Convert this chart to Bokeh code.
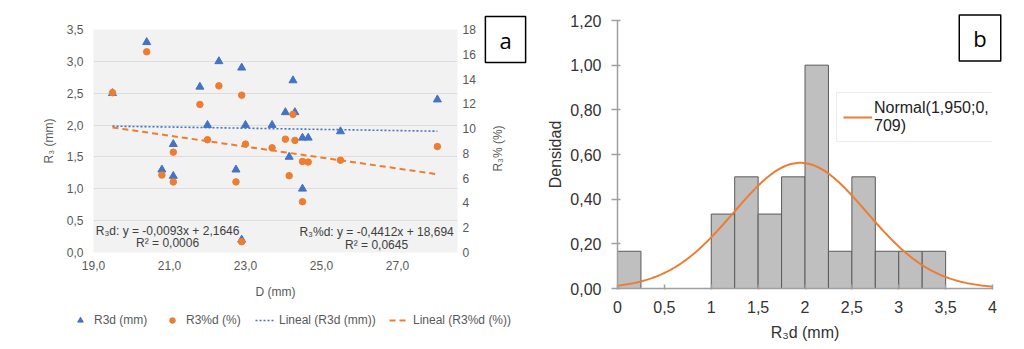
import math
import numpy as np
from bokeh.plotting import figure
from bokeh.models import (Range1d, LinearAxis, FixedTicker, CustomJSTickFormatter,
                          Legend, LegendItem, Label)
from bokeh.embed import file_html
from bokeh.resources import INLINE

# ---------------- panel a data ----------------
D_MM = [19.5, 20.4, 20.8, 21.1, 21.1, 21.8, 22.0, 22.3, 22.75, 22.9, 22.9, 23.0,
        23.7, 24.05, 24.15, 24.25, 24.3, 24.5, 24.5, 24.65, 25.5, 28.05]
R3D_MM = [2.5, 3.3, 1.3, 1.7, 1.2, 2.6, 2.0, 3.0, 1.3, 2.9, 0.2, 2.0,
          2.0, 2.2, 1.5, 2.7, 2.2, 1.8, 1.0, 1.8, 1.9, 2.4]
R3PD_PCT = [12.9, 16.2, 6.25, 8.1, 5.7, 11.95, 9.1, 13.45, 5.7, 12.7, 0.87, 8.75,
            8.45, 9.15, 6.2, 11.15, 9.05, 7.35, 4.1, 7.3, 7.45, 8.55]
TREND_A = (-0.0093, 2.1646)   # R3d trend: slope, intercept
TREND_B = (-0.4412, 18.694)   # R3%d trend: slope, intercept
X_TICKS_A = [19, 21, 23, 25, 27]
Y_TICKS_A = [0, 0.5, 1.0, 1.5, 2.0, 2.5, 3.0, 3.5]
Y2_TICKS_A = [0, 2, 4, 6, 8, 10, 12, 14, 16, 18]
LEGEND_A = ["R3d (mm)", "R3%d (%)", "Lineal (R3d (mm))", "Lineal (R3%d (%))"]

# ---------------- panel b data ----------------
BIN_LEFT = [0.0, 0.25, 0.5, 0.75, 1.0, 1.25, 1.5, 1.75, 2.0, 2.25, 2.5, 2.75, 3.0, 3.25, 3.5]
BIN_WIDTH = 0.25
DENSITY = [0.1667, 0.0, 0.0, 0.0, 0.3333, 0.5, 0.3333, 0.5, 1.0, 0.1667, 0.5, 0.1667,
           0.1667, 0.1667, 0.0]
NORMAL_MEAN = 1.950
NORMAL_SD = 0.709
X_TICKS_B = [0, 0.5, 1, 1.5, 2, 2.5, 3, 3.5, 4]
Y_TICKS_B = [0, 0.2, 0.4, 0.6, 0.8, 1.0, 1.2]

FONT = "Liberation Sans"
GRAY_TXT = "#595959"
BLUE = "#4472c4"
ORANGE = "#ed7d31"


def boxed_letter(letter, x, y):
    lab = Label(x=x, y=y, text=letter,
                text_align="center", text_baseline="middle", text_font="Open Sans",
                text_font_size="22px", text_color="black",
                border_line_color="black", border_line_width=1.5,
                background_fill_color="white", background_fill_alpha=1)
    try:
        lab.padding = (14, 8)
    except Exception:
        try:
            lab.padding = 10
        except Exception:
            pass
    return lab


# ================= Panel a =================
p1 = figure(width=532, height=349, x_range=Range1d(19, 28.58), y_range=Range1d(0, 3.5),
            output_backend="svg", toolbar_location=None,
            min_border_left=93, min_border_right=75, min_border_top=29, min_border_bottom=97,
            background_fill_color="#f2f2f2", border_fill_color="white")
p1.outline_line_color = None
p1.extra_y_ranges = {"pct": Range1d(0, 18)}

r_tri = p1.scatter(D_MM, R3D_MM, marker="triangle", size=8, color=BLUE)
r_circ = p1.scatter(D_MM, R3PD_PCT, marker="circle", size=6.5, color=ORANGE, y_range_name="pct")
x_tr = [min(D_MM), max(D_MM)]
l_a = p1.line(x_tr, [TREND_A[0] * x + TREND_A[1] for x in x_tr], color=BLUE,
              line_width=1.6, line_dash="2 2")
l_b = p1.line(x_tr, [TREND_B[0] * x + TREND_B[1] for x in x_tr], color=ORANGE,
              line_width=2, line_dash="6 4", y_range_name="pct")

ax_r = LinearAxis(y_range_name="pct", ticker=FixedTicker(ticks=Y2_TICKS_A))
p1.add_layout(ax_r, "right")

p1.xaxis[0].ticker = FixedTicker(ticks=X_TICKS_A)
p1.xaxis[0].formatter = CustomJSTickFormatter(code="return tick.toFixed(1).replace('.', ',');")
p1.yaxis[0].ticker = FixedTicker(ticks=Y_TICKS_A)
p1.yaxis[0].formatter = CustomJSTickFormatter(code="return tick.toFixed(1).replace('.', ',');")
p1.xgrid.visible = False
p1.ygrid.grid_line_color = "#dddddd"
p1.ygrid.grid_line_width = 1

for ax in [p1.xaxis[0], p1.yaxis[0], ax_r]:
    ax.axis_line_color = None
    ax.major_tick_line_color = None
    ax.minor_tick_line_color = None
    ax.major_tick_out = 0
    ax.major_tick_in = 0
    ax.major_label_text_color = GRAY_TXT
    ax.major_label_text_font = FONT
    ax.major_label_text_font_size = "12px"
    ax.axis_label_text_color = GRAY_TXT
    ax.axis_label_text_font = FONT
    ax.axis_label_text_font_size = "12px"
    ax.axis_label_text_font_style = "normal"

p1.xaxis[0].axis_label = "D (mm)"
p1.xaxis[0].major_label_standoff = 8
p1.xaxis[0].axis_label_standoff = 12
p1.yaxis[0].axis_label = "R\u2083 (mm)"
p1.yaxis[0].major_label_standoff = 10
p1.yaxis[0].axis_label_standoff = 8
ax_r.major_label_standoff = 5

for txt, x, y in [("R\u2083d: y = -0,0093x + 2,1646", 20.95, 0.34),
                  ("R\u00b2 = 0,0006", 20.95, 0.15),
                  ("R\u2083%d: y = -0,4412x + 18,694", 26.45, 0.32),
                  ("R\u00b2 = 0,0645", 26.45, 0.12)]:
    p1.add_layout(Label(x=x, y=y, text=txt, text_align="center", text_baseline="middle",
                        text_font=FONT, text_font_size="12px", text_color="#404040"))

# ================= Panel b =================
p2 = figure(width=492, height=349, x_range=Range1d(0, 4), y_range=Range1d(0, 1.2),
            output_backend="svg", toolbar_location=None,
            min_border_left=85, min_border_right=32, min_border_top=20, min_border_bottom=61)
p2.outline_line_color = None
p2.grid.visible = False

p2.quad(left=BIN_LEFT, right=[b + BIN_WIDTH for b in BIN_LEFT], bottom=0, top=DENSITY,
        fill_color="#bfbfbf", line_color="#5a5a5a", line_width=1)
xs = np.linspace(0, 4, 241)
pdf = np.exp(-0.5 * ((xs - NORMAL_MEAN) / NORMAL_SD) ** 2) / (NORMAL_SD * math.sqrt(2 * math.pi))
curve = p2.line(xs, pdf, color=ORANGE, line_width=2)

p2.xaxis[0].ticker = FixedTicker(ticks=X_TICKS_B)
p2.xaxis[0].formatter = CustomJSTickFormatter(
    code="return Number.isInteger(tick) ? tick.toString() : tick.toFixed(1).replace('.', ',');")
p2.yaxis[0].ticker = FixedTicker(ticks=Y_TICKS_B)
p2.yaxis[0].formatter = CustomJSTickFormatter(code="return tick.toFixed(2).replace('.', ',');")
for ax in [p2.xaxis[0], p2.yaxis[0]]:
    ax.axis_line_color = "#a0a0a0"
    ax.axis_line_width = 1.5
    ax.major_tick_line_color = "#a0a0a0"
    ax.major_tick_line_width = 1.5
    ax.minor_tick_line_color = None
    ax.major_label_text_color = "#333333"
    ax.major_label_text_font = FONT
    ax.major_label_text_font_size = "16px"
    ax.axis_label_text_color = "#333333"
    ax.axis_label_text_font = FONT
    ax.axis_label_text_font_size = "16px"
    ax.axis_label_text_font_style = "normal"
p2.yaxis[0].major_tick_in = 3
p2.yaxis[0].major_tick_out = 6
p2.yaxis[0].major_label_standoff = 10
p2.yaxis[0].axis_label = "Densidad"
p2.yaxis[0].axis_label_standoff = 3
p2.xaxis[0].major_tick_in = 4
p2.xaxis[0].major_tick_out = 1
p2.xaxis[0].major_label_standoff = 11
p2.xaxis[0].axis_label = "R\u2083d (mm)"
p2.xaxis[0].axis_label_standoff = 8

leg2 = Legend(items=[LegendItem(label="Normal(1,950;0,\n709)", renderers=[curve])],
              location=(219, 146))
leg2.label_text_font = FONT
leg2.label_text_font_size = "16px"
leg2.label_text_color = "#222222"
leg2.glyph_width = 29
leg2.label_standoff = 2
leg2.padding = 6
leg2.margin = 0
leg2.border_line_color = "#d9d9d9"
leg2.background_fill_color = "white"
leg2.background_fill_alpha = 1
p2.add_layout(leg2)

# ============ transparent overlay (page-sized) for texts outside the frames ============
ov = figure(width=1024, height=349, x_range=Range1d(0, 1024), y_range=Range1d(0, 349),
            output_backend="svg", toolbar_location=None, min_border=0,
            x_axis_location=None, y_axis_location=None)
ov.grid.visible = False
ov.outline_line_color = None
ov.background_fill_alpha = 0
ov.border_fill_alpha = 0

# legend sample glyphs (kept outside the visible range, only their legend swatches show)
g_tri = ov.scatter(x=[-50], y=[-50], marker="triangle", size=8, color=BLUE)
g_circ = ov.scatter(x=[-50], y=[-50], marker="circle", size=6.5, color=ORANGE)
g_la = ov.line(x=[-80, -40], y=[-50, -50], color=BLUE, line_width=1.6, line_dash="2 2")
g_lb = ov.line(x=[-80, -40], y=[-50, -50], color=ORANGE, line_width=2, line_dash="6 4")

for lbl, rend, vx in zip(LEGEND_A, [g_tri, g_circ, g_la, g_lb], [70, 162, 255, 389]):
    lg = Legend(items=[LegendItem(label=lbl, renderers=[rend])], location=(vx, 22))
    lg.label_text_font = FONT
    lg.label_text_font_size = "12px"
    lg.label_text_color = GRAY_TXT
    lg.glyph_width = 20
    lg.glyph_height = 14
    lg.label_standoff = 4
    lg.padding = 2
    lg.margin = 0
    lg.border_line_color = None
    lg.background_fill_alpha = 0
    ov.add_layout(lg)

ov.add_layout(Label(x=497, y=201, text="R\u2083% (%)", angle=math.pi / 2,
                    text_align="center", text_baseline="middle",
                    text_font=FONT, text_font_size="12px", text_color=GRAY_TXT))
ov.add_layout(boxed_letter("a", 505, 310))
ov.add_layout(boxed_letter("b", 979.5, 311.5))

html = file_html([p1, p2, ov], INLINE)
css = ("<style>html,body{margin:0;padding:0;}"
       "body{display:grid;grid-template-columns:532px 492px;grid-template-rows:349px;"
       "align-items:start;}"
       "body>div:nth-of-type(1),body>div:nth-of-type(1)>*{grid-column:1;grid-row:1;}"
       "body>div:nth-of-type(2),body>div:nth-of-type(2)>*{grid-column:2;grid-row:1;}"
       "body>div:nth-of-type(3),body>div:nth-of-type(3)>*{grid-column:1 / span 2;grid-row:1;}"
       "</style></head>")
html = html.replace("</head>", css, 1)
open("out.html", "w").write(html)
